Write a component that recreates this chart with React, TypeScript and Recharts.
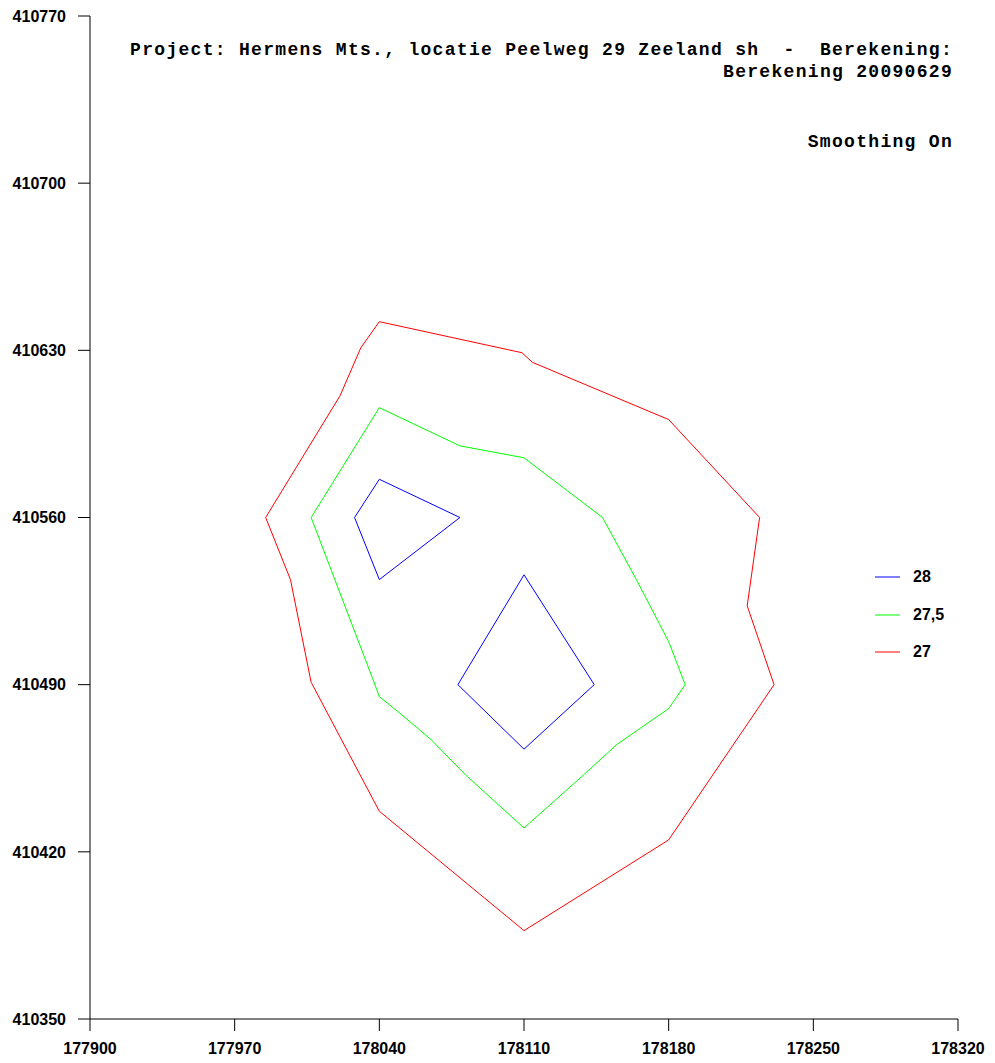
import { LineChart, Line, XAxis, YAxis } from 'recharts';

// contour lines, [x, y] in map coordinates
const contour28a = [
    [178040, 410576], [178079, 410560], [178040, 410534], [178028, 410560], [178040, 410576],
];
const contour28b = [
    [178110, 410536], [178144, 410490], [178110, 410463], [178078, 410490], [178110, 410536],
];
const contour275 = [
    [178040, 410606], [178079, 410590], [178110, 410585], [178148, 410560], [178165, 410533],
    [178180, 410508], [178188, 410490], [178180, 410480], [178155, 410465], [178136, 410450],
    [178110, 410430], [178082, 410452], [178065, 410467], [178050, 410478], [178040, 410485],
    [178037, 410492], [178007, 410560], [178040, 410606],
];
const contour27 = [
    [178040, 410642], [178031, 410631], [178021, 410611], [177985, 410560], [177997, 410534],
    [178007, 410491], [178040, 410437], [178110, 410387], [178180, 410425], [178231, 410490],
    [178218, 410523], [178224, 410560], [178180, 410601], [178114, 410625], [178109, 410629],
    [178040, 410642],
];

const xTicks = [177900, 177970, 178040, 178110, 178180, 178250, 178320];
const yTicks = [410350, 410420, 410490, 410560, 410630, 410700, 410770];

const legendItems = [
    { label: '28', color: '#0000ff' },
    { label: '27,5', color: '#00ff00' },
    { label: '27', color: '#ff0000' },
];

const toPoints = (pts: number[][]) => pts.map(([x, y]) => ({ x, y }));

const tickFont = { fontFamily: 'Liberation Sans, Arial, sans-serif', fontSize: 16, fontWeight: 700, fill: '#000' };
const titleStyle: React.CSSProperties = {
    position: 'absolute',
    right: 42,
    fontFamily: '"Liberation Mono", "Courier New", monospace',
    fontWeight: 700,
    fontSize: 18,
    letterSpacing: 1.3,
    color: '#000',
    whiteSpace: 'pre',
    lineHeight: '22px',
};

function ContourLegend() {
    return (
        <div style={{ position: 'absolute', left: 875, top: 567 }}>
            {legendItems.map((item, i) => (
                <div key={item.label} style={{ position: 'absolute', left: 0, top: i * 37.5, display: 'flex', alignItems: 'center', height: 20 }}>
                    <svg width={25} height={20}>
                        <line x1={0} y1={10} x2={25} y2={10} stroke={item.color} strokeWidth={1} />
                    </svg>
                    <span style={{ marginLeft: 13, fontFamily: 'Liberation Sans, Arial, sans-serif', fontSize: 16, fontWeight: 700, color: '#000', whiteSpace: 'pre' }}>
                        {item.label}
                    </span>
                </div>
            ))}
        </div>
    );
}

export default function App() {
    return (
        <div style={{ position: 'absolute', left: 0, top: 0, width: 995, height: 1063, background: '#fff' }}>
            <LineChart width={995} height={1063} margin={{ top: 16, right: 37, left: 0, bottom: 0 }}>
                <XAxis
                    type="number"
                    dataKey="x"
                    domain={[177900, 178320]}
                    ticks={xTicks}
                    allowDataOverflow
                    height={44}
                    stroke="#000"
                    tickSize={12}
                    tickMargin={12}
                    tick={tickFont}
                />
                <YAxis
                    type="number"
                    dataKey="y"
                    domain={[410350, 410770]}
                    ticks={yTicks}
                    allowDataOverflow
                    width={90}
                    stroke="#000"
                    tickSize={12}
                    tickMargin={12}
                    tick={tickFont}
                />
                <Line data={toPoints(contour28a)} dataKey="y" type="linear" stroke="#0000ff" strokeWidth={1} dot={false} isAnimationActive={false} />
                <Line data={toPoints(contour28b)} dataKey="y" type="linear" stroke="#0000ff" strokeWidth={1} dot={false} isAnimationActive={false} />
                <Line data={toPoints(contour275)} dataKey="y" type="linear" stroke="#00ff00" strokeWidth={1} dot={false} isAnimationActive={false} />
                <Line data={toPoints(contour27)} dataKey="y" type="linear" stroke="#ff0000" strokeWidth={1} dot={false} isAnimationActive={false} />
            </LineChart>
            <ContourLegend />
            <div style={{ ...titleStyle, top: 39, textAlign: 'right' }}>
                {'Project: Hermens Mts., locatie Peelweg 29 Zeeland sh  -  Berekening:'}
                <br />
                {'Berekening 20090629'}
            </div>
            <div style={{ ...titleStyle, top: 131 }}>Smoothing On</div>
        </div>
    );
}
